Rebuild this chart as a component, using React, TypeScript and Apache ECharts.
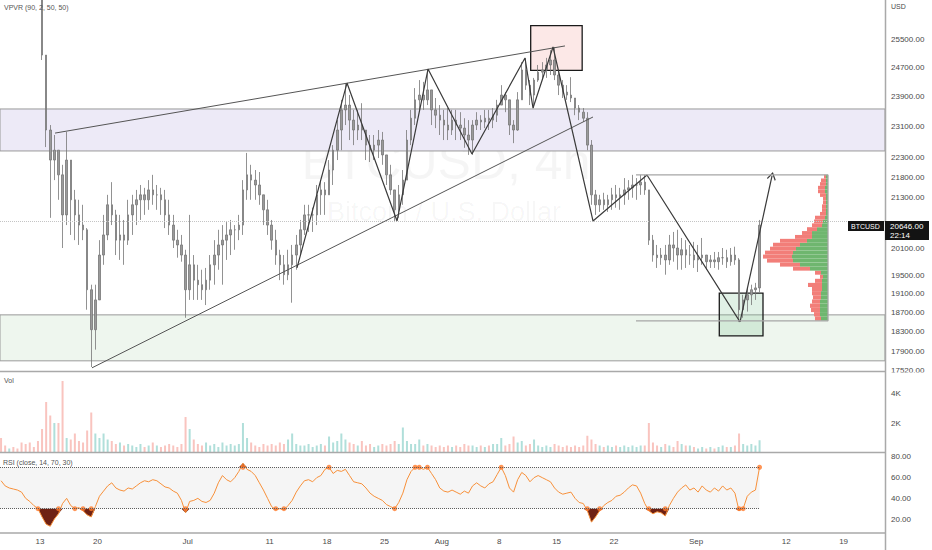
import React, { useEffect, useRef } from "react";
import * as echarts from "echarts";

const FONT = '"Liberation Sans", Arial, sans-serif';

// ---- 12-hour candles (first opens 2022-06-08 00:00 UTC) ----
const FIRST_CANDLE = "2022-06-08 00:00";
const FIRST_OPEN = 30300;
const highs = [
  30600, 30500, 30500, 30400, 30200, 29700, 29500, 29300, 29100, 28800,
  27000, 25040, 23130, 22870, 22480, 22110, 22950, 22230, 21490, 21250,
  21130, 20580, 19300, 19300, 20300, 20890, 21370, 21680, 21010, 20890,
  20770, 21250, 21370, 21490, 21610, 21540, 21730, 21860, 21610, 21540,
  21490, 21250, 20890, 20540, 20420, 20080, 20890, 19960, 19740, 19630,
  19670, 19960, 20300, 20540, 20650, 20720, 20770, 20650, 20890, 21730,
  22410, 22110, 21980, 21930, 21370, 21250, 20770, 20540, 20080, 19960,
  20080, 20190, 20420, 20770, 21130, 21130, 21060, 21610, 21730, 21680,
  22230, 22610, 23260, 23800, 24260, 23930, 23530, 23530, 23710, 23000,
  22870, 22870, 23000, 22950, 22360, 22110, 21490, 21610, 21980, 23000,
  23530, 24120, 24340, 24290, 24650, 24070, 23850, 23660, 23530, 23580,
  23530, 23530, 23470, 23310, 23260, 23260, 23470, 23390, 23530, 23530,
  23580, 23800, 24200, 24010, 23800, 23260, 24010, 24840, 24960, 24340,
  24400, 24760, 24840, 24960, 25180, 25270, 24560, 24340, 24200, 24420,
  23850, 23660, 23580, 23470, 22740, 21490, 21370, 21420, 21370, 21540,
  21610, 21540, 21780, 21730, 21860, 21780, 21860, 21860, 21490, 20420,
  20190, 20120, 20190, 20420, 20490, 20540, 20350, 20300, 20190, 20260,
  20190, 20350, 19960, 19960, 20030, 20030, 20120, 20080, 20120, 20150,
  19890, 19080, 19230, 19300, 19340, 20770,
];
const lows = [
  29900, 29800, 29900, 29700, 29300, 29000, 28800, 28500, 28200, 26700,
  24900, 22560, 20820, 21730, 21250, 20120, 20650, 20420, 20300, 20190,
  20300, 18760, 17580, 17930, 18970, 19740, 20300, 20650, 19960, 19850,
  19740, 20190, 20420, 20650, 20770, 20890, 21010, 21130, 21010, 20890,
  20580, 20420, 20120, 19900, 19810, 18590, 18970, 18970, 18970, 18970,
  18860, 19190, 19300, 19630, 19300, 19850, 19960, 20080, 20300, 20420,
  21250, 21250, 21250, 21130, 20650, 20420, 20080, 19740, 19400, 19300,
  19400, 18910, 19630, 19960, 20420, 20490, 20490, 20650, 20890, 20890,
  21370, 21610, 22230, 22480, 23130, 22740, 22610, 22740, 22740, 22230,
  22180, 22230, 22280, 22110, 21610, 21370, 20720, 20820, 21130, 21730,
  22610, 23130, 23530, 23530, 23660, 23130, 23050, 22870, 22740, 22740,
  22870, 22740, 22740, 22540, 22360, 22360, 23000, 23000, 23050, 23000,
  23050, 23210, 23660, 23470, 22870, 22660, 22980, 23800, 24070, 23660,
  23580, 24290, 24340, 24400, 24480, 24340, 23930, 23850, 23800, 23740,
  23390, 23260, 23210, 22480, 21130, 20890, 20960, 21010, 20960, 21010,
  21060, 21010, 21130, 21250, 21300, 21250, 21370, 21370, 20190, 19810,
  19670, 19740, 19520, 19740, 19810, 19630, 19630, 19670, 19740, 19670,
  19580, 19740, 19630, 19670, 19670, 19630, 19740, 19670, 19720, 19740,
  18500, 18590, 18720, 18860, 18970, 19140,
];
const closes = [
  30200, 30100, 30300, 29900, 29500, 29300, 29100, 28800, 28400, 26900,
  25040, 23000, 22230, 22480, 21860, 20890, 22230, 21250, 20890, 20650,
  20540, 19190, 18340, 18970, 19960, 20420, 21130, 20890, 20300, 20420,
  20300, 20890, 21130, 21250, 21370, 21250, 21490, 21370, 21370, 21250,
  20890, 20650, 20300, 20190, 19960, 19190, 19740, 19400, 19300, 19190,
  19400, 19740, 19960, 20190, 20300, 20420, 20540, 20540, 20650, 21490,
  21860, 21730, 21610, 21370, 21010, 20650, 20300, 19960, 19740, 19520,
  19740, 19960, 20190, 20540, 20890, 20890, 20890, 21370, 21490, 21370,
  21980, 22480, 23000, 23530, 23660, 23260, 23000, 23130, 23000, 22610,
  22480, 22610, 22740, 22360, 21860, 21490, 21010, 21370, 21730, 22740,
  23310, 23800, 23930, 23800, 24070, 23530, 23390, 23260, 23130, 23000,
  23260, 23130, 23050, 22870, 22740, 23130, 23260, 23210, 23310, 23260,
  23390, 23660, 23930, 23800, 23130, 23000, 23800, 24620, 24200, 23930,
  24340, 24560, 24620, 24760, 24900, 24480, 24200, 24010, 23930, 23850,
  23580, 23470, 23310, 22610, 21370, 21130, 21250, 21130, 21250, 21370,
  21300, 21370, 21490, 21540, 21610, 21610, 21680, 21490, 20300, 19960,
  19900, 19960, 19850, 20190, 20120, 19960, 20080, 19960, 19960, 19850,
  19900, 19960, 19810, 19850, 19810, 19900, 19900, 19810, 19960, 19850,
  18760, 18970, 19080, 19190, 19230, 20646,
];
const volumes = [
  1000, 500, 300, 400, 300, 700, 600, 700, 400, 800,
  1600, 3400, 2500, 2000, 2000, 4800, 1000, 900, 1300, 800,
  700, 1500, 2700, 1300, 1000, 1300, 900, 800, 600, 700,
  500, 600, 500, 400, 600, 400, 500, 700, 500, 400,
  500, 600, 500, 400, 600, 2400, 1600, 900, 600, 500,
  700, 500, 600, 400, 700, 500, 600, 500, 600, 2000,
  1000, 700, 500, 400, 600, 500, 600, 500, 700, 600,
  900, 1300, 600, 500, 500, 600, 400, 500, 600, 500,
  1100, 700, 800, 1300, 900, 700, 600, 500, 800, 500,
  600, 400, 500, 600, 500, 600, 800, 600, 1700, 800,
  600, 600, 900, 500, 600, 500, 400, 500, 400, 500,
  400, 500, 400, 600, 500, 500, 400, 500, 400, 500,
  600, 600, 1000, 500, 600, 1100, 700, 800, 500, 600,
  900, 500, 400, 500, 400, 600, 500, 400, 500, 400,
  500, 400, 500, 1150, 900, 600, 500, 400, 500, 400,
  500, 400, 500, 400, 500, 400, 500, 500, 2000, 700,
  500, 400, 600, 500, 400, 800, 600, 500, 500, 400,
  300, 400, 300, 400, 300, 400, 500, 400, 400, 500,
  1300, 600, 500, 600, 500, 850,
];
const rsiValues = [
  57, 52, 50, 49, 48, 46, 40, 37, 33, 30,
  22, 15, 13, 20, 25, 35, 40, 33, 30, 31,
  28, 24, 22, 32, 42, 47, 52, 55, 50, 48,
  47, 50, 49, 52, 55, 57, 56, 58, 57, 54,
  51, 50, 47, 45, 38, 26, 37, 38, 40, 37,
  36, 38, 45, 55, 62, 58, 56, 60, 66, 74,
  68, 66, 62, 55, 48, 40, 32, 29, 30, 29,
  33, 38, 46, 52, 57, 58, 56, 60, 62, 68,
  70, 64, 67, 66, 68, 62, 56, 55, 54, 50,
  45, 42, 40, 38, 34, 32, 30, 36, 45, 58,
  66, 70, 70, 68, 70, 64, 58, 50, 47, 46,
  48, 46, 44, 47, 45, 52, 55, 52, 50, 54,
  56, 63, 70, 62, 50, 46, 58, 65, 62, 56,
  60, 62, 60, 58, 56, 50, 46, 44, 45, 46,
  40, 36, 35, 28, 17, 22, 28, 33, 36, 38,
  42, 43, 46, 50, 53, 52, 45, 35, 28, 25,
  27, 26, 23, 33, 40, 46, 50, 53, 48, 50,
  46, 52, 48, 46, 50, 47, 52, 48, 50, 45,
  28, 30, 42, 46, 48, 70,
];
const RSI_UPPER = 70;
const RSI_LOWER = 30;

// ---- axes ----
const priceTicks = [25500, 24700, 23900, 23100, 22300, 21800, 21300, 20100, 19500, 19100, 18700, 18300, 17900, 17520];
const volumeTicks = [2000, 4000];
const rsiTicks = [20, 40, 60, 80];
const dateTicks = ["2022-06-13", "2022-06-20", "2022-07-01", "2022-07-11", "2022-07-18", "2022-07-25", "2022-08-01", "2022-08-08", "2022-08-15", "2022-08-22", "2022-09-01", "2022-09-12", "2022-09-19"];
const dateTickLabels = ["13", "20", "Jul", "11", "18", "25", "Aug", "8", "15", "22", "Sep", "12", "19"];
const PRICE_AXIS = [17501, 26653];
const TIME_AXIS = ["2022-06-08 02:55", "2022-09-24 01:10"];
const RSI_AXIS = [6.5, 83.8];
const VOL_AXIS_MAX = 5400;

const lastPrice = 20646;
const lastPriceTimer = "22:14";

// ---- drawings ----
const resistanceZone = [22460, 23555];
const supportZone = [17704, 18651];
const wedgeUpper: [string, number][] = [["2022-06-14 20:00", 22920], ["2022-08-16 00:30", 25300]];
const wedgeLower: [string, number][] = [["2022-06-19 08:10", 17564], ["2022-08-19 10:30", 23342]];
const zigzag: [string, number][] = [
  ["2022-07-14 08:10", 19671], ["2022-07-20 10:30", 24258], ["2022-07-26 13:00", 20747],
  ["2022-07-30 07:40", 24647], ["2022-08-04 16:20", 22383], ["2022-08-11 03:30", 24956],
  ["2022-08-12 03:00", 23580], ["2022-08-14 13:30", 25270], ["2022-08-19 10:30", 20747],
  ["2022-08-26 00:30", 21857], ["2022-09-06 08:50", 18504],
];
const arrowLeg: [string, number][] = [["2022-09-06 08:50", 18504], ["2022-09-10 06:30", 21832]];
const redBox: [string, number][] = [["2022-08-11 20:10", 25887], ["2022-08-18 02:50", 24611]];
const greenBox: [string, number][] = [["2022-09-03 20:10", 19115], ["2022-09-09 04:05", 18212]];

// ---- VPVR rows (price bins from 18530, step 90) ----
const vpvrLow = 18530;
const vpvrStep = 90;
const vpvrUp = [7, 8, 8, 8, 8, 7, 7, 6, 6, 6, 5, 7, 18, 28, 35, 36, 35, 32, 28, 21, 16, 16, 11, 6, 5, 3, 2, 2, 2, 2, 2, 2, 3, 3, 2, 2, 2];
const vpvrDown = [6, 6, 9, 10, 8, 8, 9, 10, 14, 7, 3, 6, 17, 20, 26, 29, 28, 26, 27, 27, 17, 10, 10, 10, 9, 10, 6, 4, 4, 3, 3, 6, 7, 7, 6, 5, 2];
const vpvrRange = { from: "2022-08-24 16:20", to: "2022-09-17 02:20", low: 18525, high: 21857 };

const toTime = (s: string) => {
  const [d, t = "00:00"] = s.split(" ");
  const [y, m, dd] = d.split("-").map(Number);
  const [hh, mm] = t.split(":").map(Number);
  return Date.UTC(y, m - 1, dd, hh, mm);
};
const L = Math.log;

function buildOption() {
  const HALF_DAY = 12 * 3600 * 1000;
  const t0 = toTime(FIRST_CANDLE);
  const times = closes.map((_, i) => t0 + i * HALF_DAY + HALF_DAY / 2);
  const opens = closes.map((_, i) => (i === 0 ? FIRST_OPEN : closes[i - 1]));
  const tMin = toTime(TIME_AXIS[0]);
  const tMax = toTime(TIME_AXIS[1]);
  const tLast = times[times.length - 1];
  const pt = (p: [string, number]) => [toTime(p[0]), L(p[1])];

  const candleData = times.map((t, i) => [t, L(opens[i]), L(closes[i]), L(lows[i]), L(highs[i])]);
  const volData = times.map((t, i) => ({
    value: [t, volumes[i]],
    itemStyle: { color: closes[i] >= opens[i] ? "#b0dfda" : "#f9c4bf" },
  }));
  const rsiData = times.map((t, i) => [t, rsiValues[i]]);
  const lowLine = times.map((t, i) => [t, Math.min(rsiValues[i], RSI_LOWER)]);
  const highLine = times.map((t, i) => [t, Math.max(rsiValues[i], RSI_UPPER)]);
  const dots: number[][] = [];
  times.forEach((t, i) => {
    const v = rsiValues[i];
    const prev = i > 0 ? rsiValues[i - 1] : v;
    const next = i < times.length - 1 ? rsiValues[i + 1] : v;
    if (v <= RSI_LOWER && (prev > RSI_LOWER || next > RSI_LOWER)) dots.push([t, RSI_LOWER]);
    if (v >= RSI_UPPER && (prev < RSI_UPPER || next < RSI_UPPER)) dots.push([t, RSI_UPPER]);
  });
  const vpvrData = vpvrUp.map((u, i) => [L(vpvrLow + i * vpvrStep), L(vpvrLow + (i + 1) * vpvrStep), u, vpvrDown[i]]);
  const dateTimes = dateTicks.map((d) => toTime(d));
  const labelFor = (v: number) => {
    let best = "";
    let bestD = Infinity;
    dateTimes.forEach((t, i) => {
      const d = Math.abs(t - v);
      if (d < bestD) { bestD = d; best = dateTickLabels[i]; }
    });
    return best;
  };

  const hiddenX = (gridIndex: number) => ({
    type: "value", gridIndex, min: tMin, max: tMax, scale: true,
    axisLine: { show: false }, axisTick: { show: false }, axisLabel: { show: false }, splitLine: { show: false },
  });
  const labelStyle = { fontSize: 8, color: "#4a4a4a", fontFamily: FONT, margin: 6 };
  const rightY = (gridIndex: number, min: number, max: number, custom: number[], fmt: (v: number) => string) => ({
    type: "value", gridIndex, position: "right", min, max, scale: true,
    axisLine: { show: false }, axisTick: { show: false }, splitLine: { show: false },
    axisLabel: { ...labelStyle, customValues: custom, formatter: fmt },
  });
  const ARROW = "path://M5,0 L10,8 L9,9 L5,2.5 L1,9 L0,8 Z";
  const annot = (data: number[][], color: string, width: number) => ({
    type: "line", xAxisIndex: 0, yAxisIndex: 0, data, symbol: "none", silent: true, z: 5,
    lineStyle: { color, width }, clip: true,
  });

  return {
    animation: false,
    textStyle: { fontFamily: FONT },
    grid: [
      { left: 0, top: 0, width: 885, height: 371 },
      { left: 0, top: 372, width: 885, height: 81 },
      { left: 0, top: 453, width: 885, height: 80 },
      { left: 740, top: 0, width: 88, height: 371 },
    ],
    xAxis: [
      hiddenX(0),
      hiddenX(1),
      {
        ...hiddenX(2),
        axisLine: { show: true, lineStyle: { color: "#a9a9a9", width: 1.5 } },
        axisLabel: {
          show: true, customValues: dateTimes, formatter: (v: number) => labelFor(v),
          fontSize: 8, color: "#4a4a4a", fontFamily: FONT, margin: 4,
        },
      },
      { type: "value", gridIndex: 3, inverse: true, min: 0, max: 88, show: false },
    ],
    yAxis: [
      rightY(0, L(PRICE_AXIS[0]), L(PRICE_AXIS[1]), priceTicks.map(L), (v) => Math.round(Math.exp(v)).toFixed(2)),
      rightY(1, 0, VOL_AXIS_MAX, volumeTicks, (v) => v / 1000 + "K"),
      rightY(2, RSI_AXIS[0], RSI_AXIS[1], rsiTicks, (v) => v.toFixed(2)),
      { type: "value", gridIndex: 3, min: L(PRICE_AXIS[0]), max: L(PRICE_AXIS[1]), show: false, scale: true },
    ],
    series: [
      {
        type: "line", xAxisIndex: 0, yAxisIndex: 0, data: [], z: 1, silent: true,
        markArea: {
          silent: true,
          data: [
            [{ yAxis: L(resistanceZone[0]), itemStyle: { color: "#edeaf7", borderColor: "#9a9a9a", borderWidth: 1 } }, { yAxis: L(resistanceZone[1]) }],
            [{ yAxis: L(supportZone[0]), itemStyle: { color: "#eef6ee", borderColor: "#9a9a9a", borderWidth: 1 } }, { yAxis: L(supportZone[1]) }],
          ],
        },
      },
      {
        type: "line", xAxisIndex: 0, yAxisIndex: 0, data: [], z: 2, silent: true,
        markArea: {
          silent: true,
          data: [
            [{ coord: pt(redBox[0]), itemStyle: { color: "#fce8e7", borderColor: "#1a1a1a", borderWidth: 1.3 } }, { coord: pt(redBox[1]) }],
            [{ coord: pt(greenBox[0]), itemStyle: { color: "rgba(120,190,140,0.22)", borderColor: "#1a1a1a", borderWidth: 1.3 } }, { coord: pt(greenBox[1]) }],
          ],
        },
      },
      {
        type: "candlestick", xAxisIndex: 0, yAxisIndex: 0, z: 3, data: candleData, barWidth: 2,
        encode: { x: 0, y: [1, 2, 3, 4] }, clip: true, silent: true,
        itemStyle: { color: "#9a9a9a", color0: "#9a9a9a", borderColor: "#767676", borderColor0: "#767676", borderWidth: 0.8 },
        markLine: {
          silent: true, symbol: "none", label: { show: false },
          lineStyle: { color: "#c4c4c4", type: "dotted", width: 1 },
          data: [{ yAxis: L(lastPrice) }],
        },
      },
      annot(wedgeUpper.map(pt), "#555", 1),
      annot(wedgeLower.map(pt), "#555", 1),
      {
        ...annot(zigzag.map(pt), "#3a3a3a", 1.2),
        markLine: {
          silent: true, symbol: ["none", ARROW], symbolSize: [9, 8], label: { show: false },
          lineStyle: { color: "#3a3a3a", width: 1.2, type: "solid" },
          data: [[{ coord: pt(arrowLeg[0]) }, { coord: pt(arrowLeg[1]) }]],
        },
      },
      annot(
        [
          [toTime(vpvrRange.from), L(vpvrRange.high)], [toTime(vpvrRange.to), L(vpvrRange.high)],
          [toTime(vpvrRange.to), L(vpvrRange.low)], [toTime(vpvrRange.from), L(vpvrRange.low)],
        ],
        "#a6a6a6", 1.3
      ),
      {
        type: "custom", xAxisIndex: 3, yAxisIndex: 3, z: 4, silent: true, data: vpvrData,
        encode: { x: 2, y: 0 },
        renderItem: (_p: any, api: any) => {
          const lo = api.value(0), hi = api.value(1), up = api.value(2), dn = api.value(3);
          const top = api.coord([0, hi]);
          const bot = api.coord([0, lo]);
          const xUp = api.coord([up, lo])[0];
          const xAll = api.coord([up + dn, lo])[0];
          const h = bot[1] - top[1];
          return {
            type: "group",
            children: [
              { type: "rect", shape: { x: xAll, y: top[1], width: xUp - xAll, height: h }, style: { fill: "#f27e79" } },
              { type: "rect", shape: { x: xUp, y: top[1], width: top[0] - xUp, height: h }, style: { fill: "#6fb66f" } },
            ],
          };
        },
      },
      { type: "bar", xAxisIndex: 1, yAxisIndex: 1, data: volData, barWidth: 2, silent: true },
      {
        type: "line", xAxisIndex: 2, yAxisIndex: 2, data: [], z: 1, silent: true,
        markArea: {
          silent: true,
          data: [[{ coord: [tMin, RSI_LOWER], itemStyle: { color: "#f5f5f5" } }, { coord: [tLast, RSI_UPPER] }]],
        },
        markLine: {
          silent: true, symbol: "none", label: { show: false },
          lineStyle: { color: "#5e5e5e", type: "dotted", width: 1 },
          data: [
            [{ coord: [tMin, RSI_UPPER] }, { coord: [tLast, RSI_UPPER] }],
            [{ coord: [tMin, RSI_LOWER] }, { coord: [tLast, RSI_LOWER] }],
          ],
        },
      },
      { type: "line", xAxisIndex: 2, yAxisIndex: 2, data: lowLine, symbol: "none", lineStyle: { width: 0 }, areaStyle: { color: "#6e2114", opacity: 1, origin: RSI_LOWER }, z: 2, silent: true },
      { type: "line", xAxisIndex: 2, yAxisIndex: 2, data: highLine, symbol: "none", lineStyle: { width: 0 }, areaStyle: { color: "#6e2114", opacity: 1, origin: RSI_UPPER }, z: 2, silent: true },
      { type: "line", xAxisIndex: 2, yAxisIndex: 2, data: rsiData, symbol: "none", lineStyle: { color: "#f7903a", width: 1 }, z: 3, silent: true },
      { type: "scatter", xAxisIndex: 2, yAxisIndex: 2, data: dots, symbolSize: 5, itemStyle: { color: "#ff7a2c" }, z: 4, silent: true },
    ],
    graphic: [
      { type: "text", x: 446, y: 162, z: 0, silent: true, style: { text: "BTCUSD, 4h", fontSize: 50, fontFamily: FONT, fill: "rgba(0,0,0,0.04)", align: "center", verticalAlign: "middle" } },
      { type: "text", x: 444, y: 212, z: 0, silent: true, style: { text: "Bitcoin / U.S. Dollar", fontSize: 27, fontFamily: FONT, fill: "rgba(0,0,0,0.04)", align: "center", verticalAlign: "middle" } },
      { type: "text", x: 4, y: 4, z: 100, style: { text: "VPVR (90, 2, 50, 50)", fontSize: 7, fontFamily: FONT, fill: "#555" } },
      { type: "text", x: 4, y: 377, z: 100, style: { text: "Vol", fontSize: 7, fontFamily: FONT, fill: "#555" } },
      { type: "text", x: 3, y: 459, z: 100, style: { text: "RSI (close, 14, 70, 30)", fontSize: 7, fontFamily: FONT, fill: "#555" } },
      { type: "text", x: 891, y: 3, z: 100, style: { text: "USD", fontSize: 7, fontFamily: FONT, fill: "#4a4a4a" } },
      { type: "rect", z: 99, shape: { x: 887, y: 372.5, width: 45, height: 7 }, style: { fill: "#fff" } },
      { type: "line", z: 100, shape: { x1: 0, y1: 371.5, x2: 885, y2: 371.5 }, style: { stroke: "#a9a9a9", lineWidth: 1.5 } },
      { type: "line", z: 100, shape: { x1: 0, y1: 452.5, x2: 885, y2: 452.5 }, style: { stroke: "#a9a9a9", lineWidth: 1.5 } },
      { type: "line", z: 100, shape: { x1: 885.5, y1: 0, x2: 885.5, y2: 550 }, style: { stroke: "#a9a9a9", lineWidth: 1.5 } },
      { type: "rect", z: 100, shape: { x: 848, y: 221, width: 36, height: 10 }, style: { fill: "#131313" } },
      { type: "text", x: 851, y: 222.5, z: 101, style: { text: "BTCUSD", fontSize: 7, fontFamily: FONT, fill: "#fff" } },
      { type: "rect", z: 100, shape: { x: 885, y: 221, width: 44, height: 19 }, style: { fill: "#131313" } },
      { type: "text", x: 890, y: 222.5, z: 101, style: { text: lastPrice.toFixed(2), fontSize: 8, fontFamily: FONT, fill: "#fff" } },
      { type: "text", x: 890, y: 231, z: 101, style: { text: lastPriceTimer, fontSize: 8, fontFamily: FONT, fill: "#fff" } },
    ],
  };
}

export default function App() {
  const ref = useRef<HTMLDivElement>(null);
  useEffect(() => {
    if (!ref.current) return;
    const chart = echarts.init(ref.current, null, { renderer: "svg" });
    chart.setOption(buildOption() as any);
    return () => chart.dispose();
  }, []);
  return (
    <div style={{ position: "fixed", left: 0, top: 0, width: 932, height: 550, background: "#fff" }}>
      <div ref={ref} style={{ width: 932, height: 550 }} />
    </div>
  );
}
